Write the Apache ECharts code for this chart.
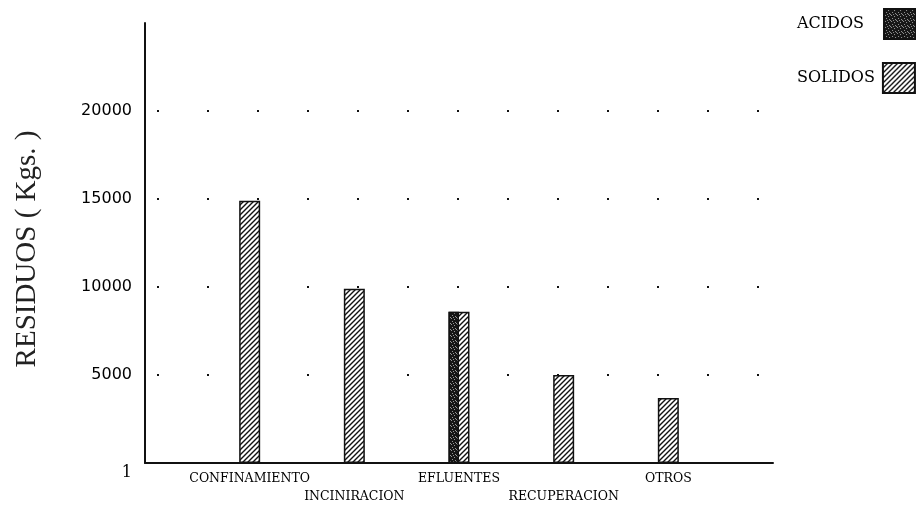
<!DOCTYPE html>
<html>
<head>
<meta charset="utf-8">
<script src="https://cdn.jsdelivr.net/npm/echarts@6/dist/echarts.min.js"></script>
<style>
html,body{margin:0;padding:0;background:#fff;}
#chart{width:916px;height:506px;}
</style>
</head>
<body>
<div id="chart"></div>
<script>
// ---- data ----
const categories = ['CONFINAMIENTO', 'INCINIRACION', 'EFLUENTES', 'RECUPERACION', 'OTROS'];
const solidos = [14900, 9900, 8600, 5000, 3700];
const acidos = ['-', '-', 8600, '-', '-'];
const yTicks = [0, 5000, 10000, 15000, 20000, 25000];
const yTickLabels = ['1', '5000', '10000', '15000', '20000', ''];
const yName = 'RESIDUOS ( Kgs. )';

// pad the category axis with empty slots at both ends
const axisCats = [''].concat(categories, ['']);
const pad = arr => ['-'].concat(arr, ['-']);

function hatch(size, lw) {
  const c = document.createElement('canvas');
  c.width = c.height = size;
  const g = c.getContext('2d');
  g.fillStyle = '#fff';
  g.fillRect(0, 0, size, size);
  g.strokeStyle = '#111';
  g.lineWidth = lw;
  g.beginPath();
  g.moveTo(-1, size + 1); g.lineTo(size + 1, -1);
  g.moveTo(-1, 1); g.lineTo(1, -1);
  g.moveTo(size - 1, size + 1); g.lineTo(size + 1, size - 1);
  g.stroke();
  return c;
}
function stipple() {
  const c = document.createElement('canvas');
  c.width = c.height = 6;
  const g = c.getContext('2d');
  g.fillStyle = '#161616';
  g.fillRect(0, 0, 6, 6);
  g.fillStyle = 'rgba(255,255,255,0.55)';
  [[1,0],[4,1],[2,3],[5,4],[0,5],[3,5]].forEach(p => g.fillRect(p[0], p[1], 1, 1));
  return c;
}
const hatchFill = { image: hatch(5, 1.4), repeat: 'repeat' };
const stippleFill = { image: stipple(), repeat: 'repeat' };

const serif = 'DejaVu Serif';
const chart = echarts.init(document.getElementById('chart'));
chart.setOption({
  backgroundColor: '#fff',
  animation: false,
  grid: { left: 145, right: 143, top: 23, bottom: 43, containLabel: false, outerBoundsMode: 'none' },
  legend: [
    { data: ['ACIDOS'], left: 797, top: 8, padding: 0, align: 'right', icon: 'rect',
      itemWidth: 32, itemHeight: 30, selectedMode: false,
      textStyle: { fontFamily: serif, fontSize: 16, color: '#000', padding: [0, 15, 0, 0] } },
    { data: ['SOLIDOS'], left: 797, top: 62, padding: 0, align: 'right', icon: 'rect',
      itemWidth: 32, itemHeight: 30, selectedMode: false,
      textStyle: { fontFamily: serif, fontSize: 16, color: '#000', padding: [0, 3, 0, 0] } }
  ],
  xAxis: {
    type: 'category', data: axisCats, boundaryGap: false,
    axisLine: { lineStyle: { color: '#111', width: 2 } },
    axisTick: { show: false },
    splitLine: { show: false },
    axisLabel: {
      interval: 0, margin: 7, fontFamily: serif, fontSize: 12.5, color: '#000', lineHeight: 18,
      formatter: (v, i) => (v && i % 2 === 0) ? '\n' + v : v
    }
  },
  yAxis: {
    type: 'value', min: yTicks[0], max: yTicks[yTicks.length - 1], interval: 5000,
    axisLine: { show: true, lineStyle: { color: '#111', width: 2 } },
    axisTick: { show: false },
    axisLabel: {
      margin: 13, fontFamily: 'DejaVu Sans', fontSize: 16, color: '#000',
      formatter: v => {
        const i = yTicks.indexOf(v);
        const t = i >= 0 ? yTickLabels[i] : '';
        return v === 0 ? '{one|' + t + '}' : t;
      },
      rich: { one: { fontFamily: serif, fontSize: 16, color: '#000', padding: [20, 0, 0, 0] } }
    },
    splitLine: {
      show: true, showMinLine: false, showMaxLine: false,
      lineStyle: { color: '#111', width: 2.2, type: [2, 48], dashOffset: 38 }
    },
    name: yName, nameLocation: 'middle', nameGap: 103,
    nameTextStyle: { fontFamily: 'Liberation Serif', fontSize: 29, color: '#222', padding: [0, 12, 0, 0] }
  },
  series: [
    { name: 'ACIDOS', type: 'bar', data: pad(acidos), barWidth: 10.5, barGap: '-100%', z: 3,
      itemStyle: { color: stippleFill, borderColor: '#111', borderWidth: 1.5 } },
    { name: 'SOLIDOS', type: 'bar', data: pad(solidos), barWidth: 21, barGap: '-100%', z: 2,
      itemStyle: { color: hatchFill, borderColor: '#111', borderWidth: 1.5 } }
  ]
});
</script>
</body>
</html>
